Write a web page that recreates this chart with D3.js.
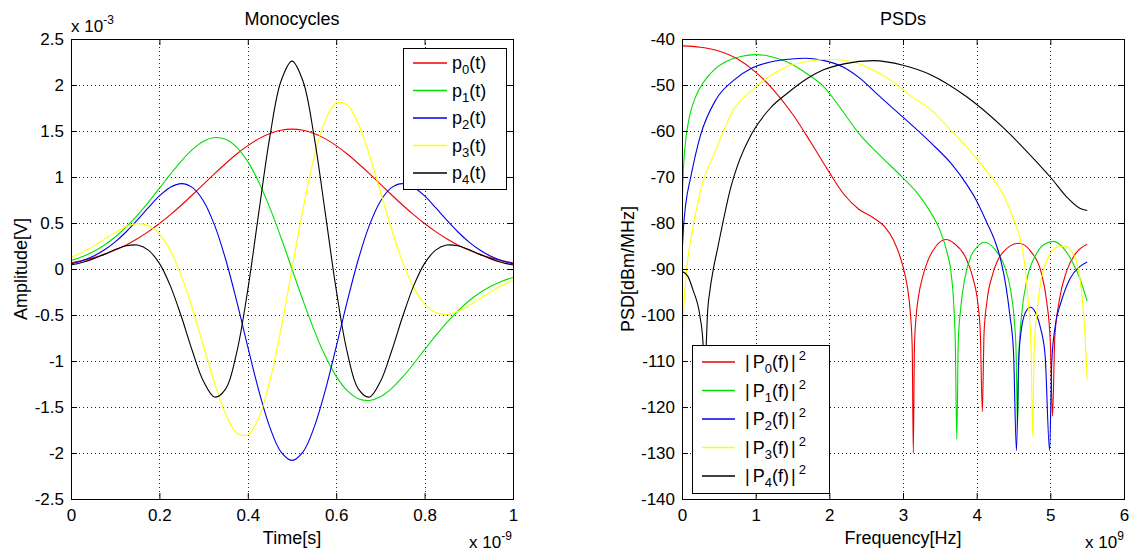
<!DOCTYPE html>
<html><head><meta charset="utf-8">
<script src="https://cdn.jsdelivr.net/npm/d3@7"></script>
<style>
body{margin:0;background:#fff;}
svg text{font-family:"Liberation Sans",Arial,Helvetica,sans-serif;fill:#000;}
</style></head><body>
<svg id="chart" width="1135" height="553"></svg>
<script>
// ---------------- data ----------------
const timeTicks = [0, 0.2, 0.4, 0.6, 0.8, 1];
const timeTickLabels = ["0", "0.2", "0.4", "0.6", "0.8", "1"];
const ampTicks = [-2.5, -2, -1.5, -1, -0.5, 0, 0.5, 1, 1.5, 2, 2.5];
const ampTickLabels = ["-2.5", "-2", "-1.5", "-1", "-0.5", "0", "0.5", "1", "1.5", "2", "2.5"];
const freqTicks = [0, 1, 2, 3, 4, 5, 6];
const freqTickLabels = ["0", "1", "2", "3", "4", "5", "6"];
const psdTicks = [-140, -130, -120, -110, -100, -90, -80, -70, -60, -50, -40];
const psdTickLabels = ["-140", "-130", "-120", "-110", "-100", "-90", "-80", "-70", "-60", "-50", "-40"];

const monoNames = ["p0", "p1", "p2", "p3", "p4"];
const psdNames = ["P0", "P1", "P2", "P3", "P4"];
const seriesColors = ["#f00000", "#00e000", "#0000e8", "#ffff00", "#000000"];

// time samples (x 1e-9 s)
const tSamples = [0,0.025,0.05,0.075,0.1,0.125,0.15,0.175,0.2,0.225,0.25,0.275,0.3,0.325,0.35,0.375,0.4,0.425,0.45,0.475,0.5,
  0.525,0.55,0.575,0.6,0.625,0.65,0.675,0.7,0.725,0.75,0.775,0.8,0.825,0.85,0.875,0.9,0.925,0.95,0.975,1];
// amplitudes (x 1e-3 V)
const p0 = [0.067,0.091,0.121,0.159,0.206,0.262,0.329,0.406,0.494,0.591,0.696,0.807,0.922,1.037,1.147,1.250,1.341,1.417,1.473,1.508,1.520,
  1.508,1.473,1.417,1.341,1.250,1.147,1.037,0.922,0.807,0.696,0.591,0.494,0.406,0.329,0.262,0.206,0.159,0.121,0.091,0.067];
const p1 = [0.092,0.133,0.188,0.259,0.348,0.457,0.583,0.725,0.877,1.031,1.176,1.300,1.389,1.429,1.410,1.323,1.167,0.944,0.664,0.343,0,
  -0.343,-0.664,-0.944,-1.167,-1.323,-1.410,-1.429,-1.389,-1.300,-1.176,-1.031,-0.877,-0.725,-0.583,-0.457,-0.348,-0.259,-0.188,-0.133,-0.092];
const p2 = [0.056,0.089,0.138,0.206,0.295,0.405,0.532,0.667,0.794,0.889,0.928,0.884,0.737,0.474,0.103,-0.352,-0.846,-1.324,-1.722,-1.987,-2.080,
  -1.987,-1.722,-1.324,-0.846,-0.352,0.103,0.474,0.737,0.884,0.928,0.889,0.794,0.667,0.532,0.405,0.295,0.206,0.138,0.089,0.056];
const p3 = [0.125,0.179,0.246,0.322,0.398,0.461,0.493,0.473,0.380,0.197,-0.078,-0.435,-0.840,-1.242,-1.578,-1.783,-1.804,-1.613,-1.215,-0.653,0,
  0.653,1.215,1.613,1.804,1.783,1.578,1.242,0.840,0.435,0.078,-0.197,-0.380,-0.473,-0.493,-0.461,-0.398,-0.322,-0.246,-0.179,-0.125];
const p4 = [0.043,0.071,0.110,0.159,0.211,0.252,0.260,0.205,0.061,-0.186,-0.522,-0.897,-1.223,-1.392,-1.303,-0.905,-0.225,0.619,1.441,2.041,2.260,
  2.041,1.441,0.619,-0.225,-0.905,-1.303,-1.392,-1.223,-0.897,-0.522,-0.186,0.061,0.205,0.260,0.252,0.211,0.159,0.110,0.071,0.043];

// PSDs: frequency (x 1e9 Hz) and level (dBm/MHz)
const P0f = [0,0.25,0.5,0.75,1.0,1.25,1.5,1.75,2.0,2.2,2.4,2.6,2.75,2.87,3.0,3.06,3.1,3.125,3.14,3.155,3.18,3.21,3.27,3.33,3.45,3.58,3.7,3.85,3.95,4.02,4.05,4.077,4.1,4.14,4.22,4.35,4.57,4.75,4.88,4.95,5.0,5.03,5.06,5.12,5.22,5.35,5.5];
const P0db = [-41.5,-41.8,-42.6,-44.3,-47.2,-51.2,-56.3,-62.5,-69.0,-73.8,-77.0,-78.9,-80.8,-83.7,-89.5,-94,-99.6,-107,-130,-107,-100,-96,-91.5,-88.5,-85,-83.6,-84.5,-87.5,-92,-98,-104,-121,-104,-97,-91,-86.5,-84.4,-86.5,-91,-97,-106,-122,-105,-97,-90.5,-86.5,-84.6];
const P1f = [0,0.02,0.05,0.1,0.2,0.3,0.45,0.6,0.8,1.0,1.2,1.43,1.7,1.92,2.15,2.4,2.7,3.0,3.2,3.38,3.5,3.6,3.65,3.69,3.71,3.73,3.75,3.78,3.84,3.92,4.0,4.11,4.25,4.38,4.46,4.51,4.535,4.555,4.575,4.61,4.68,4.8,4.92,5.045,5.18,5.3,5.4,5.5];
const P1db = [-77,-68,-62,-57,-52,-49.2,-46.5,-44.9,-43.8,-43.4,-43.8,-45,-47.6,-50.3,-55,-60.5,-65.5,-70.2,-73.6,-77.8,-81.5,-86.5,-90.5,-98,-106,-127,-106,-99,-92,-87.3,-85.3,-84.2,-85.8,-89.5,-94.5,-101,-108,-124,-108,-100,-92.5,-87,-84.6,-84.0,-85.5,-88.5,-92,-97];
const P2f = [0,0.02,0.05,0.12,0.25,0.46,0.7,0.95,1.2,1.45,1.68,1.9,2.2,2.45,2.65,3.0,3.38,3.65,3.86,4.0,4.14,4.25,4.32,4.4,4.45,4.5,4.54,4.57,4.6,4.66,4.73,4.8,4.87,4.93,4.99,5.02,5.07,5.14,5.27,5.4,5.5];
const P2db = [-87,-81,-76,-69.9,-61,-53.2,-49,-46.3,-45,-44.4,-44.2,-44.6,-46.2,-49.0,-52.0,-57.0,-62.6,-67,-71.5,-75.2,-80,-84,-87.6,-94,-100,-108,-129.5,-110,-104,-99.5,-98.3,-99.5,-103,-109,-129.5,-110,-102,-97.5,-92,-89.5,-88.5];
const P3f = [0,0.02,0.04,0.07,0.11,0.25,0.46,0.7,0.95,1.2,1.43,1.7,2.0,2.3,2.6,2.89,3.1,3.38,3.6,3.86,4.1,4.35,4.52,4.6,4.66,4.71,4.74,4.76,4.78,4.82,4.88,4.97,5.1,5.2,5.3,5.38,5.43,5.47,5.5];
const P3db = [-107,-99,-94.6,-89,-84.5,-73,-64.1,-55.4,-51.1,-48,-46,-44.9,-44.4,-44.9,-46.8,-49.6,-52.3,-55.4,-59,-63.4,-68,-73.5,-80,-84,-90,-99,-108,-126.3,-108,-99,-92,-87.5,-85.2,-85,-86.5,-90,-96,-104,-114];
const P4f = [0,0.08,0.15,0.245,0.285,0.31,0.33,0.345,0.38,0.42,0.49,0.56,0.65,0.75,0.95,1.2,1.43,1.7,1.92,2.2,2.6,3.0,3.38,3.86,4.35,4.83,5.0,5.22,5.4,5.5];
const P4db = [-90.5,-91.6,-94.6,-100.4,-106,-118,-106,-100,-94.6,-90.5,-85,-79.5,-73,-67.7,-60.5,-55,-51.8,-48.6,-46.7,-45.4,-44.7,-45.7,-47.8,-52.5,-59.1,-67,-70,-74.3,-76.8,-77.3];

const monoSeries = [p0, p1, p2, p3, p4];
const psdFreqs = [P0f, P1f, P2f, P3f, P4f];
const psdLevels = [P0db, P1db, P2db, P3db, P4db];

// ---------------- drawing ----------------
const svg = d3.select("#chart");
const FONT = 18, TICKFONT = 17;

const boxL = {x0: 71, x1: 513, y0: 39, y1: 499};
const boxR = {x0: 682, x1: 1124, y0: 39, y1: 499};

const xL = d3.scaleLinear().domain([0, 1]).range([boxL.x0, boxL.x1]);
const yL = d3.scaleLinear().domain([-2.5, 2.5]).range([boxL.y1, boxL.y0]);
const xR = d3.scaleLinear().domain([0, 6]).range([boxR.x0, boxR.x1]);
const yR = d3.scaleLinear().domain([-140, -40]).range([boxR.y1, boxR.y0]);

function frame(id, box, xs, ys, xt, yt) {
  const g = svg.append("g").attr("id", id);
  const grid = g.append("g").attr("stroke", "#222").attr("stroke-dasharray", "1,3").attr("stroke-width", 1).attr("shape-rendering", "crispEdges");
  xt.slice(1, -1).forEach(v => {
    const x = Math.round(xs(v)) + 0.5;
    grid.append("line").attr("x1", x).attr("x2", x).attr("y1", box.y0).attr("y2", box.y1);
  });
  yt.slice(1, -1).forEach(v => {
    const y = Math.round(ys(v)) + 0.5;
    grid.append("line").attr("y1", y).attr("y2", y).attr("x1", box.x0).attr("x2", box.x1);
  });
  return g;
}

function axes(g, box, xs, ys, xt, xtl, yt, ytl) {
  const H = box.y1 - box.y0, W = box.x1 - box.x0;
  const bottom = d3.axisBottom(xs).tickValues(xt).tickFormat((d, i) => xtl[i]).tickSizeInner(-6).tickSizeOuter(0).tickPadding(10);
  const top = d3.axisTop(xs).tickValues(xt).tickFormat("").tickSizeInner(-6).tickSizeOuter(0);
  const left = d3.axisLeft(ys).tickValues(yt).tickFormat((d, i) => ytl[i]).tickSizeInner(-6).tickSizeOuter(0).tickPadding(7);
  const right = d3.axisRight(ys).tickValues(yt).tickFormat("").tickSizeInner(-6).tickSizeOuter(0);
  const gb = g.append("g").attr("transform", `translate(0,${box.y1})`).call(bottom);
  const gt = g.append("g").attr("transform", `translate(0,${box.y0})`).call(top);
  const gl = g.append("g").attr("transform", `translate(${box.x0},0)`).call(left);
  const gr = g.append("g").attr("transform", `translate(${box.x1},0)`).call(right);
  [gb, gt, gl, gr].forEach(a => {
    a.select(".domain").remove();
    a.attr("font-family", null).attr("font-size", null);
    a.selectAll(".tick line").attr("stroke", "#000");
    a.selectAll("text").style("font-size", TICKFONT + "px");
  });
  g.append("rect").attr("x", box.x0 + 0.5).attr("y", box.y0 + 0.5).attr("width", W).attr("height", H)
    .attr("fill", "none").attr("stroke", "#000").attr("stroke-width", 1).attr("shape-rendering", "crispEdges");
}

const defs = svg.append("defs");
defs.append("clipPath").attr("id", "clipL").append("rect").attr("x", boxL.x0).attr("y", boxL.y0).attr("width", boxL.x1 - boxL.x0).attr("height", boxL.y1 - boxL.y0);
defs.append("clipPath").attr("id", "clipR").append("rect").attr("x", boxR.x0).attr("y", boxR.y0).attr("width", boxR.x1 - boxR.x0).attr("height", boxR.y1 - boxR.y0);

// ---- left plot ----
const gL = frame("left", boxL, xL, yL, timeTicks, ampTicks);
const lineL = d3.line().x((d, i) => xL(tSamples[i])).y(d => yL(d)).curve(d3.curveCatmullRom.alpha(0.5));
const curvesL = gL.append("g").attr("clip-path", "url(#clipL)");
monoSeries.forEach((s, k) => {
  curvesL.append("path").attr("d", lineL(s)).attr("fill", "none").attr("stroke", seriesColors[k]).attr("stroke-width", 1.1);
});
axes(gL, boxL, xL, yL, timeTicks, timeTickLabels, ampTicks, ampTickLabels);

// ---- right plot ----
const gR = frame("right", boxR, xR, yR, freqTicks, psdTicks);
const curvesR = gR.append("g").attr("clip-path", "url(#clipR)");
psdLevels.forEach((lv, k) => {
  const fr = psdFreqs[k];
  const line = d3.line().x((d, i) => xR(fr[i])).y(d => yR(d)).curve(d3.curveMonotoneX);
  curvesR.append("path").attr("d", line(lv)).attr("fill", "none").attr("stroke", seriesColors[k]).attr("stroke-width", 1.1);
});
axes(gR, boxR, xR, yR, freqTicks, freqTickLabels, psdTicks, psdTickLabels);

// ---- titles & labels ----
function centered(x, y, txt) {
  return svg.append("text").attr("x", x).attr("y", y).attr("text-anchor", "middle").style("font-size", FONT + "px").text(txt);
}
centered((boxL.x0 + boxL.x1) / 2, 25, "Monocycles");
centered((boxR.x0 + boxR.x1) / 2, 25, "PSDs");
centered((boxL.x0 + boxL.x1) / 2, 544, "Time[s]");
centered((boxR.x0 + boxR.x1) / 2, 544, "Frequency[Hz]");
svg.append("text").attr("transform", `translate(27,${(boxL.y0 + boxL.y1) / 2}) rotate(-90)`).attr("text-anchor", "middle").style("font-size", FONT + "px").text("Amplitude[V]");
svg.append("text").attr("transform", `translate(634,${(boxR.y0 + boxR.y1) / 2}) rotate(-90)`).attr("text-anchor", "middle").style("font-size", FONT + "px").text("PSD[dBm/MHz]");

function expLabel(x, y, exp) {
  const t = svg.append("text").attr("x", x).attr("y", y).style("font-size", TICKFONT + "px");
  t.append("tspan").text("x 10");
  t.append("tspan").attr("dy", -8).style("font-size", "12px").text(exp);
}
expLabel(71, 32, "-3");
expLabel(469, 548, "-9");
expLabel(1085, 548, "9");

// ---- legends ----
function legend(box, rows, lineX0, lineX1, textX, kind) {
  const g = svg.append("g");
  g.append("rect").attr("x", box.x + 0.5).attr("y", box.y + 0.5).attr("width", box.w).attr("height", box.h)
    .attr("fill", "#fff").attr("stroke", "#000").attr("stroke-width", 1).attr("shape-rendering", "crispEdges");
  rows.forEach((name, k) => {
    const yy = box.y + box.rowY0 + k * box.rowStep;
    g.append("line").attr("x1", lineX0).attr("x2", lineX1).attr("y1", yy).attr("y2", yy)
      .attr("stroke", seriesColors[k]).attr("stroke-width", 1.3);
    const t = g.append("text").attr("x", textX).attr("y", yy + 6).style("font-size", FONT + "px");
    if (kind === "mono") {
      t.append("tspan").text("p");
      t.append("tspan").attr("dy", 5).style("font-size", "13px").text(name.slice(1));
      t.append("tspan").attr("dy", -5).text("(t)");
    } else {
      t.append("tspan").text("|");
      t.append("tspan").attr("dx", 3).text("P");
      t.append("tspan").attr("dy", 5).style("font-size", "13px").text(name.slice(1));
      t.append("tspan").attr("dy", -5).text("(f)");
      t.append("tspan").attr("dx", 2).text("|");
      t.append("tspan").attr("dx", 3).attr("dy", -8).style("font-size", "13px").text("2");
    }
  });
}
legend({x: 403, y: 48, w: 103, h: 141, rowY0: 15, rowStep: 27.5}, monoNames, 413, 447, 452, "mono");
legend({x: 692, y: 345, w: 137, h: 148, rowY0: 17, rowStep: 28.5}, psdNames, 702, 735, 745, "psd");
</script>
</body></html>
